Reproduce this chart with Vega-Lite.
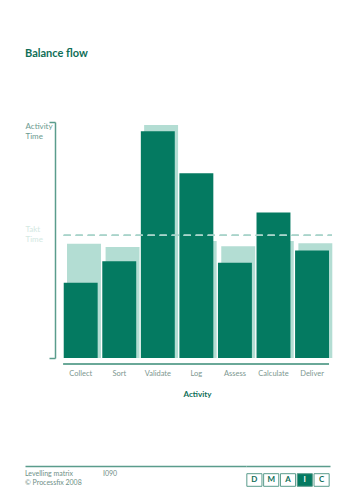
{
  "$schema": "https://vega.github.io/schema/vega-lite/v6.json",
  "padding": {"left": 25, "top": 48, "right": 0, "bottom": 0},
  "autosize": {"type": "pad"},
  "background": "white",
  "title": {"text": "Balance flow", "anchor": "start", "frame": "bounds", "font": "Lato", "fontSize": 11, "fontWeight": "bold", "color": "#0f6e57", "offset": 62},
  "config": {"view": {"stroke": null}, "font": "Lato"},
  "datasets": {
    "activities": [
      {"activity": "Collect", "time": 3.19, "levelled": 4.84},
      {"activity": "Sort", "time": 4.10, "levelled": 4.70},
      {"activity": "Validate", "time": 9.61, "levelled": 9.87},
      {"activity": "Log", "time": 7.83, "levelled": 4.96},
      {"activity": "Assess", "time": 4.04, "levelled": 4.73},
      {"activity": "Calculate", "time": 6.17, "levelled": 4.96},
      {"activity": "Deliver", "time": 4.56, "levelled": 4.86}
    ],
    "footnotes": [
      {"text": "Levelling matrix", "col": "note", "line": 1},
      {"text": "© Processfix 2008", "col": "note", "line": 2},
      {"text": "I090", "col": "ref", "line": 1}
    ],
    "phases": [
      {"phase": "D", "row": "box", "active": false},
      {"phase": "M", "row": "box", "active": false},
      {"phase": "A", "row": "box", "active": false},
      {"phase": "I", "row": "box", "active": true},
      {"phase": "C", "row": "box", "active": false}
    ]
  },
  "spacing": 67,
  "vconcat": [
    {
      "width": 305,
      "height": 236,
      "data": {"name": "activities"},
      "layer": [
        {
          "mark": {"type": "bar", "color": "#b3ddd3", "xOffset": 3.3},
          "encoding": {
            "x": {
              "field": "activity", "type": "nominal", "sort": null,
              "scale": {"paddingInner": 0.12, "paddingOuter": 0.515, "align": 0.975},
              "axis": {
                "orient": "bottom", "offset": 6, "domain": false,
                "ticks": false, "tickSize": 0, "labelPadding": 5, "labelColor": "#7d9790",
                "labelFontSize": 7.5, "labelAngle": 0, "title": "Activity", "titleFontWeight": "bold",
                "titleColor": "#0f6e57", "titleFontSize": 8, "titlePadding": 14, "titleX": 172
              }
            },
            "y": {
              "field": "levelled", "type": "quantitative",
              "scale": {"domain": [0, 10], "nice": false, "zero": true},
              "axis": {
                "orient": "left", "values": [0, 5.2, 10], "offset": -30, "grid": false, "title": null,
                "domainColor": "#5a9c8c", "domainWidth": 1.5,
                "tickColor": "#5a9c8c", "tickWidth": 1.5, "tickSize": 6,
                "tickOpacity": {"condition": {"test": "datum.value == 0 || datum.value == 10", "value": 1}, "value": 0},
                "labelExpr": "datum.value == 10 ? ['Activity', 'Time'] : (datum.value > 0 ? ['Takt', 'Time'] : '')",
                "labelAlign": "left", "labelBaseline": "top", "labelPadding": 24,
                "labelOffset": {"condition": {"test": "datum.value < 9", "value": -10}, "value": 0.5},
                "labelColor": {"condition": {"test": "datum.value > 9", "value": "#6b9a8f"}, "value": "#d3e8e2"},
                "labelFontSize": 8, "labelLineHeight": 10,
                "labelOverlap": false, "labelFlush": false, "labelBound": false
              }
            }
          }
        },
        {
          "mark": {"type": "bar", "color": "#047a61"},
          "encoding": {
            "x": {"field": "activity", "type": "nominal", "sort": null},
            "y": {"field": "time", "type": "quantitative"}
          }
        },
        {
          "mark": {"type": "rule", "color": "#a9d5ca", "strokeDash": [7, 5], "strokeWidth": 1, "x2Offset": 3},
          "encoding": {
            "x": {"datum": "Collect", "bandPosition": 0},
            "x2": {"datum": "Deliver", "bandPosition": 1},
            "y": {"datum": 5.2}
          }
        },
        {
          "mark": {"type": "rule", "color": "#6aa898", "strokeWidth": 2, "yOffset": 6},
          "encoding": {
            "x": {"datum": "Collect", "bandPosition": 0},
            "x2": {"datum": "Deliver", "bandPosition": 1},
            "y": {"datum": 0}
          }
        }
      ]
    },
    {
      "spacing": 0,
      "hconcat": [
        {
          "width": 221,
          "height": 28,
          "data": {"name": "footnotes"},
          "mark": {"type": "text", "align": "left", "baseline": "middle", "fontSize": 7, "color": "#6f8f87"},
          "encoding": {
            "x": {"field": "col", "type": "nominal", "bandPosition": 0,
                  "scale": {"type": "band", "domain": ["note", "ref"], "paddingInner": 0, "paddingOuter": 0.417, "align": 0},
                  "axis": {"orient": "top", "labels": false, "ticks": false, "domainColor": "#5a9c8c", "domainWidth": 1.5, "title": null}},
            "y": {"field": "line", "type": "ordinal",
                  "scale": {"type": "band", "domain": [1, 2], "paddingInner": 0, "paddingOuter": 0.647, "align": 0.386}, "axis": null},
            "text": {"field": "text"}
          }
        },
        {
          "width": 84,
          "height": 28,
          "data": {"name": "phases"},
          "encoding": {
            "x": {"field": "phase", "type": "nominal", "sort": null,
                  "scale": {"paddingInner": 0.1, "paddingOuter": 0.05},
                  "axis": {"orient": "top", "labels": false, "ticks": false, "domainColor": "#5a9c8c", "domainWidth": 1.5, "title": null}},
            "y": {"field": "row", "type": "nominal", "scale": {"paddingInner": 0.379, "paddingOuter": 0.379}, "axis": null}
          },
          "layer": [
            {
              "mark": {"type": "rect", "stroke": "#5a9c8c", "strokeWidth": 1},
              "encoding": {
                "fill": {"condition": {"test": "datum.active", "value": "#047a61"}, "value": "white"}
              }
            },
            {
              "mark": {"type": "text", "fontWeight": "bold", "fontSize": 8, "baseline": "middle"},
              "encoding": {
                "text": {"field": "phase"},
                "color": {"condition": {"test": "datum.active", "value": "white"}, "value": "#0f6e57"}
              }
            }
          ]
        }
      ]
    }
  ]
}
